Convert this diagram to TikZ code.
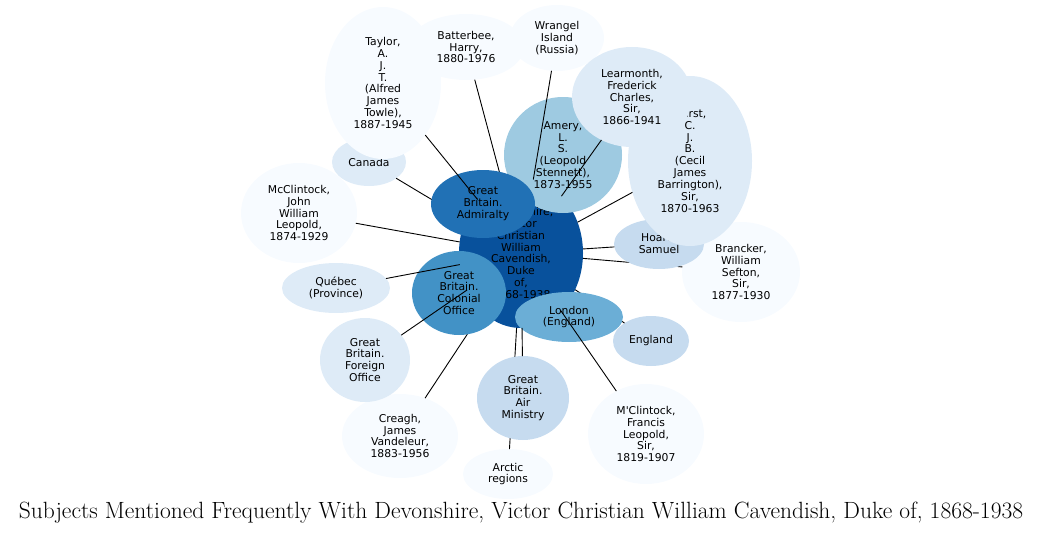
\documentclass[tikz,border=0pt]{standalone}
\usepackage{fontspec}
\usepackage{tikz}
\usetikzlibrary{shapes.geometric}
\newfontfamily\dejavu{DejaVu Sans}
\definecolor{blueA}{HTML}{F7FBFF}
\definecolor{blueB}{HTML}{DEEBF7}
\definecolor{blueC}{HTML}{C6DBEF}
\definecolor{blueD}{HTML}{9ECAE1}
\definecolor{blueE}{HTML}{6BAED6}
\definecolor{blueF}{HTML}{4292C6}
\definecolor{blueG}{HTML}{2171B5}
\definecolor{blueH}{HTML}{08519C}

\begin{document}
\begin{tikzpicture}[x=1pt,y=-1pt,
  bub/.style={ellipse,draw=none,inner sep=0pt,outer sep=0pt,align=center,
    font=\dejavu\fontsize{10.8}{11.9}\selectfont},
  link/.style={line width=0.9pt}]
\useasboundingbox (0,0) rectangle (1043,535);
% centre and the nodes whose links lie underneath others
\node[bub,fill=blueH,minimum width=124,minimum height=150] (dev) at (521,253) {Devonshire,\\Victor\\Christian\\William\\Cavendish,\\Duke\\of,\\1868-1938};
\node[bub,fill=blueB,minimum width=74,minimum height=48] (canada) at (369,162) {Canada};
\node[bub,fill=blueA,minimum width=116,minimum height=66] (batterbee) at (466,47) {Batterbee,\\Harry,\\1880-1976};
\node[bub,fill=blueA,minimum width=116,minimum height=84] (creagh) at (400,436) {Creagh,\\James\\Vandeleur,\\1883-1956};
\node[bub,fill=blueA,minimum width=90,minimum height=50] (arctic) at (508,474) {Arctic\\regions};
\node[bub,fill=blueC,minimum width=76,minimum height=50] (england) at (651,341) {England};
\node[bub,fill=blueA,minimum width=118,minimum height=100] (brancker) at (741,272) {Brancker,\\William\\Sefton,\\Sir,\\1877-1930};
\foreach \n in {canada,batterbee,creagh,arctic,england,brancker}
  \draw[link] (dev) -- (\n);
% nodes drawn on top
\node[bub,fill=blueD,minimum width=118,minimum height=116] (amery) at (563,155) {Amery,\\L.\\S.\\(Leopold\\Stennett),\\1873-1955};
\node[bub,fill=blueG,minimum width=104,minimum height=68] (admiralty) at (483,204) {Great\\Britain.\\Admiralty};
\node[bub,fill=blueF,minimum width=94,minimum height=84] (colonial) at (459,293) {Great\\Britain.\\Colonial\\Office};
\node[bub,fill=blueE,minimum width=108,minimum height=50] (london) at (569,317) {London\\(England)};
\node[bub,fill=blueC,minimum width=92,minimum height=84] (airmin) at (523,398) {Great\\Britain.\\Air\\Ministry};
\node[bub,fill=blueC,minimum width=90,minimum height=50] (hoare) at (659,244) {Hoare,\\Samuel};
\node[bub,fill=blueB,minimum width=124,minimum height=170] (hurst) at (690,161) {Hurst,\\C.\\J.\\B.\\(Cecil\\James\\Barrington),\\Sir,\\1870-1963};
\node[bub,fill=blueA,minimum width=94,minimum height=66] (wrangel) at (557,38) {Wrangel\\Island\\(Russia)};
\node[bub,fill=blueB,minimum width=120,minimum height=100] (learmonth) at (632,97) {Learmonth,\\Frederick\\Charles,\\Sir,\\1866-1941};
\node[bub,fill=blueA,minimum width=116,minimum height=152] (taylor) at (383,83) {Taylor,\\A.\\J.\\T.\\(Alfred\\James\\Towle),\\1887-1945};
\node[bub,fill=blueA,minimum width=116,minimum height=100] (mcjohn) at (299,213) {McClintock,\\John\\William\\Leopold,\\1874-1929};
\node[bub,fill=blueB,minimum width=108,minimum height=50] (quebec) at (336,288) {Québec\\(Province)};
\node[bub,fill=blueB,minimum width=90,minimum height=84] (foreign) at (365,360) {Great\\Britain.\\Foreign\\Office};
\node[bub,fill=blueA,minimum width=116,minimum height=100] (mcfrancis) at (646,434) {M'Clintock,\\Francis\\Leopold,\\Sir,\\1819-1907};
\foreach \n in {taylor,wrangel,learmonth,hurst,hoare,mcjohn,quebec,foreign,airmin,mcfrancis}
  \draw[link] (dev) -- (\n);
\node[font=\fontsize{23.5}{28}\selectfont] (title) at (521,513) {Subjects Mentioned Frequently With Devonshire, Victor Christian William Cavendish, Duke of, 1868-1938};
\end{tikzpicture}
\end{document}
